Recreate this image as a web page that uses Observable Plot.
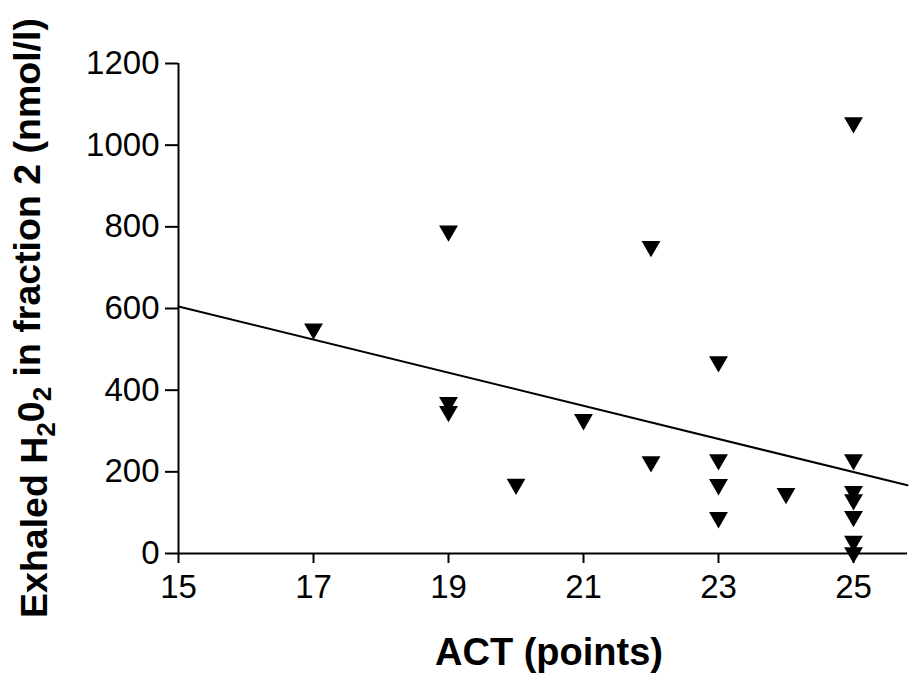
<!DOCTYPE html>
<html>
<head>
<meta charset="utf-8">
<script src="https://cdn.jsdelivr.net/npm/d3@7"></script>
<script src="https://cdn.jsdelivr.net/npm/@observablehq/plot@0.6"></script>
<style>
  html, body { margin: 0; padding: 0; background: #fff; }
  #chart svg { display: block; }
</style>
</head>
<body>
<div id="chart"></div>
<script>
// Data
const act   = [17, 19, 19, 19, 20, 21, 22, 22, 23, 23, 23, 23, 24, 25, 25, 25, 25, 25, 25, 25];
const h2o2  = [550, 790, 370, 348, 170, 328, 752, 225, 470, 230, 169, 88, 147, 1055, 230, 152, 132, 91, 30, 2];
const xTicks = [15, 17, 19, 21, 23, 25];
const yTicks = [0, 200, 400, 600, 800, 1000, 1200];
// Regression line as drawn in the reference (endpoints)
const fitX = [15, 25.8];
const fitY = [605, 167];

const points = act.map((x, i) => ({x, y: h2o2[i]}));
const fit = fitX.map((x, i) => ({x, y: fitY[i]}));

const font = "Liberation Sans, Arial, sans-serif";

const plot = Plot.plot({
  width: 909,
  height: 675,
  marginLeft: 178,
  marginRight: 2,
  marginTop: 63,
  marginBottom: 122,
  style: {fontFamily: font, background: "#fff", color: "#000"},
  x: {domain: [15, 25.8]},
  y: {domain: [0, 1200]},
  marks: [
    Plot.ruleY([0], {x1: 15, x2: 25.8, stroke: "#000", strokeWidth: 2}),
    Plot.ruleX([15], {y1: 0, y2: 1200, stroke: "#000", strokeWidth: 2}),
    Plot.axisX({ticks: xTicks, tickSize: 10, tickPadding: 11, strokeWidth: 2, fontSize: 33, label: null, tickFormat: d => String(d)}),
    Plot.axisY({ticks: yTicks, tickSize: 13, tickPadding: 6, strokeWidth: 2, fontSize: 33, label: null, tickFormat: d => String(d)}),
    Plot.line(fit, {x: "x", y: "y", stroke: "#000", strokeWidth: 2}),
    Plot.dot(points, {x: "x", y: "y", symbol: "triangle", rotate: 180, r: 7, fill: "#000", stroke: "none"})
  ]
});

const svg = d3.select(plot);
// x-axis title
svg.append("text")
  .attr("x", 549).attr("y", 665)
  .attr("text-anchor", "middle")
  .attr("font-family", font).attr("font-weight", "bold").attr("font-size", 38)
  .attr("fill", "#000")
  .text("ACT (points)");
// y-axis title with subscripts
const yl = svg.append("text")
  .attr("transform", "translate(47,318) rotate(-90)")
  .attr("text-anchor", "middle")
  .attr("font-family", font).attr("font-weight", "bold").attr("font-size", 37.5)
  .attr("fill", "#000");
yl.append("tspan").text("Exhaled H");
yl.append("tspan").attr("font-size", 26).attr("dy", "0.3em").text("2");
yl.append("tspan").attr("dy", "-0.3em").text("0");
yl.append("tspan").attr("font-size", 26).attr("dy", "0.3em").text("2");
yl.append("tspan").attr("dy", "-0.3em").text(" in fraction 2 (nmol/l)");

document.getElementById("chart").appendChild(plot);
</script>
</body>
</html>
